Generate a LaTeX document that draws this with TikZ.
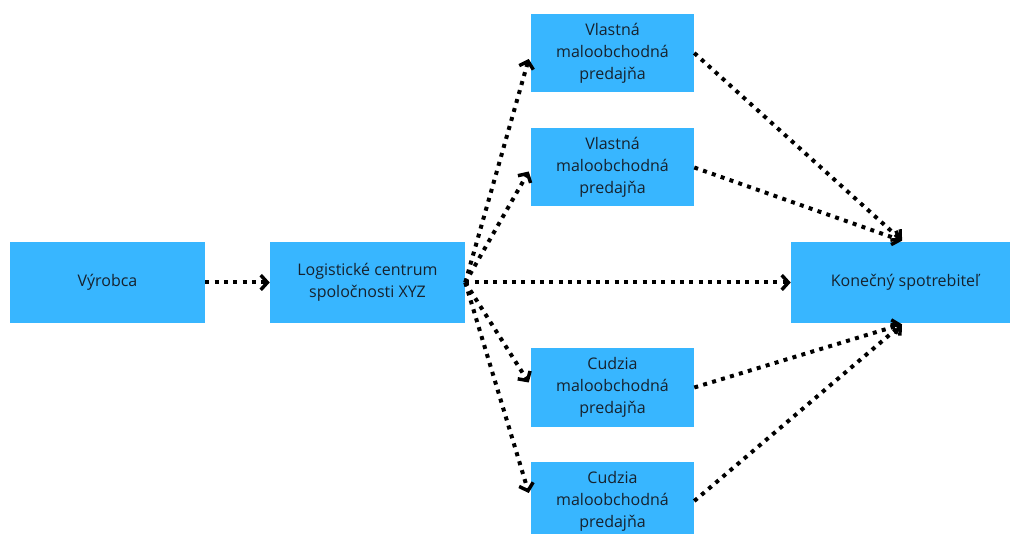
\documentclass[tikz,border=0pt]{standalone}
\usepackage{fontspec}
\setmainfont{Open Sans}
\usetikzlibrary{arrows.meta,calc}
\definecolor{boxblue}{HTML}{38B6FF}
\definecolor{txt}{HTML}{16222E}
\tikzset{
  box/.style={fill=boxblue, draw=none, inner sep=0pt, align=center, text=txt,
    font=\fontsize{12pt}{16.5pt}\selectfont},
  bigbox/.style={box, minimum width=146.25pt, minimum height=60.75pt},
  smallbox/.style={box, minimum width=122.25pt, minimum height=58.5pt},
  dotarrow/.style={line width=3pt, dash pattern=on 3pt off 4pt,
    -{Straight Barb[length=5pt,width=11pt,line width=2.6pt]}}
}
\begin{document}
\begin{tikzpicture}[x=0.75pt,y=-0.75pt]
\useasboundingbox (0,0) rectangle (1010,534);
\node[bigbox] (vyr) at (107.5,282.5) {Výrobca};
\node[bigbox] (log) at (367.5,282.5) {Logistické centrum\\spoločnosti XYZ};
\node[smallbox] (v1) at (612.5,53) {Vlastná\\maloobchodná\\predajňa};
\node[smallbox] (v2) at (612.5,167.5) {Vlastná\\maloobchodná\\predajňa};
\node[smallbox] (c1) at (612.5,387.5) {Cudzia\\maloobchodná\\predajňa};
\node[smallbox] (c2) at (612.5,501) {Cudzia\\maloobchodná\\predajňa};
\node[box, minimum width=171pt, minimum height=60.75pt] (kon) at (905,282.5) {Konečný spotrebiteľ};

\draw[dotarrow] (vyr.east) -- (log.west);
\draw[dotarrow] (log.east) -- (kon.west);
\draw[dotarrow] (log.east) -- ($(v1.west)+(-2,6)$);
\draw[dotarrow] (log.east) -- ($(v2.west)+(-2,4)$);
\draw[dotarrow] (log.east) -- ($(c1.west)+(-2,-5)$);
\draw[dotarrow] (log.east) -- ($(c2.west)+(-2,-8)$);
\draw[dotarrow] (v1.east) -- ($(kon.north)+(-3,-1)$);
\draw[dotarrow] (v2.east) -- ($(kon.north)+(-3,-1)$);
\draw[dotarrow] (c1.east) -- ($(kon.south)+(-3,1)$);
\draw[dotarrow] (c2.east) -- ($(kon.south)+(-3,1)$);
\end{tikzpicture}
\end{document}
